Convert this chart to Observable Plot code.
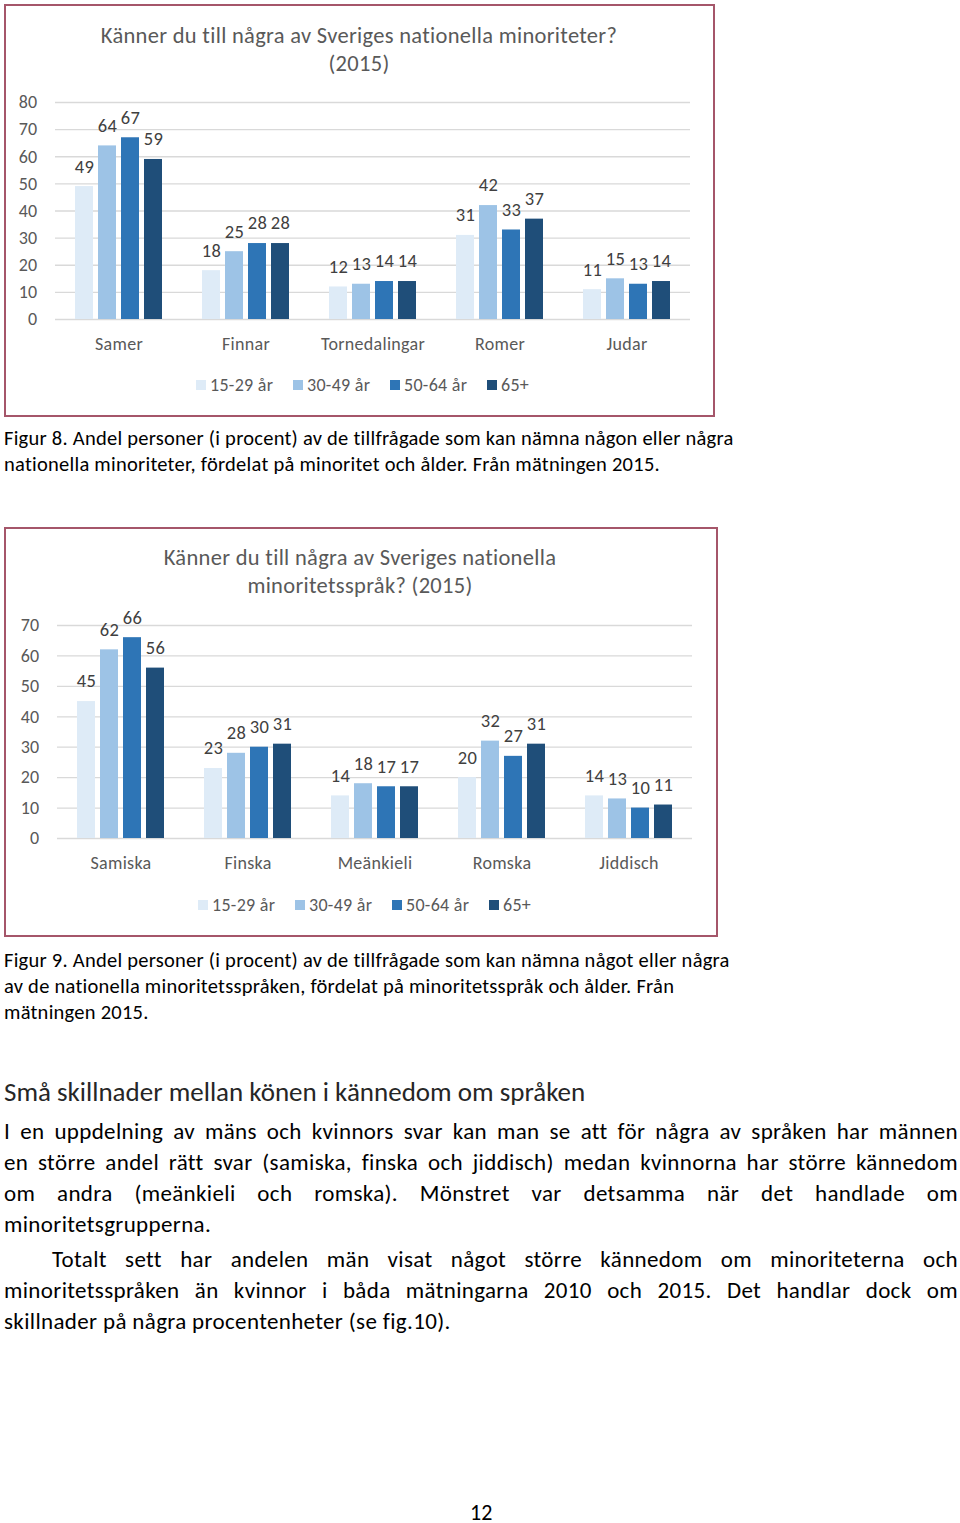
<!DOCTYPE html>
<html><head><meta charset="utf-8">
<script src="https://cdn.jsdelivr.net/npm/d3@7"></script>
<script src="https://cdn.jsdelivr.net/npm/@observablehq/plot@0.6"></script>
<style>
html,body{margin:0;padding:0;background:#fff;}
body{width:960px;height:1523px;position:relative;font-family:Carlito,Calibri,Lato,sans-serif;color:#000;overflow:hidden;}
.abs{position:absolute;white-space:nowrap;}
.box{position:absolute;border:2px solid #a5566a;box-sizing:border-box;}
.ctitle{position:absolute;text-align:center;color:#595959;font-size:22.5px;letter-spacing:0.3px;line-height:28px;}
.legend{position:absolute;color:#595959;font-size:18px;letter-spacing:0.3px;white-space:nowrap;}
.legend span.sw{position:absolute;width:10px;height:10px;}
.legend span.lb{position:absolute;line-height:20px;}
.cap{position:absolute;left:4px;font-size:20.5px;letter-spacing:0.25px;line-height:26px;white-space:nowrap;}
.line{position:absolute;left:4px;width:954px;font-size:23px;letter-spacing:0.35px;line-height:31px;white-space:nowrap;text-align:justify;text-align-last:justify;}
.last{text-align:left;text-align-last:left;}
</style></head>
<body>
<script>
const ageGroups = ["15-29 år", "30-49 år", "50-64 år", "65+"];
const ageColors = ["#deebf7", "#9dc3e6", "#2e75b6", "#1f4e79"];

const minorities = ["Samer", "Finnar", "Tornedalingar", "Romer", "Judar"];
const minor15_29 = [49, 18, 12, 31, 11];
const minor30_49 = [64, 25, 13, 42, 15];
const minor50_64 = [67, 28, 14, 33, 13];
const minor65 = [59, 28, 14, 37, 14];
const minorTicks = [0, 10, 20, 30, 40, 50, 60, 70, 80];

const languages = ["Samiska", "Finska", "Meänkieli", "Romska", "Jiddisch"];
const lang15_29 = [45, 23, 14, 20, 14];
const lang30_49 = [62, 28, 18, 32, 13];
const lang50_64 = [66, 30, 17, 27, 10];
const lang65 = [56, 31, 17, 31, 11];
const langTicks = [0, 10, 20, 30, 40, 50, 60, 70];

function toRows(cats, seriesArrays) {
  const rows = [];
  cats.forEach((c, i) => seriesArrays.forEach((arr, j) => rows.push({cat: c, age: ageGroups[j], value: arr[i]})));
  return rows;
}

function makeChart(cats, seriesArrays, ticks, opts) {
  const rows = toRows(cats, seriesArrays);
  return Plot.plot({
    width: opts.width, height: opts.height,
    marginLeft: 50, marginRight: opts.marginRight, marginTop: opts.marginTop, marginBottom: opts.marginBottom,
    style: {fontFamily: "Carlito, Calibri, Lato, sans-serif", fontSize: "18px", letterSpacing: "0.3px", color: "#595959", background: "transparent"},
    fx: {domain: cats, padding: 0, label: null},
    x: {domain: ageGroups, paddingInner: 0.22, paddingOuter: 0.86, axis: null},
    y: {domain: [0, ticks[ticks.length - 1]], ticks: ticks, label: null},
    color: {domain: ageGroups, range: ageColors},
    marks: [
      Plot.gridY(ticks, {stroke: "#d9d9d9", strokeOpacity: 1, strokeWidth: 1.3}),
      Plot.axisY(ticks, {tickSize: 0, tickPadding: 18, label: null, fill: "#595959"}),
      Plot.axisFx({anchor: "bottom", tickSize: 0, tickPadding: 25, lineAnchor: "middle", label: null, fill: "#595959"}),
      Plot.barY(rows, {fx: "cat", x: "age", y: "value", fill: "age"}),
      Plot.text(rows, {fx: "cat", x: "age", y: "value", text: d => String(d.value), dy: -20, fill: "#404040", fontSize: 18.5})
    ]
  });
}

function place(el, left, top) {
  el.style.position = "absolute";
  el.style.left = left + "px";
  el.style.top = top + "px";
  document.body.appendChild(el);
}

function addLegend(top, starts) {
  const lg = document.createElement("div");
  lg.className = "legend";
  lg.style.left = "0px"; lg.style.top = (top - 10) + "px";
  ageGroups.forEach((g, i) => {
    const sw = document.createElement("span");
    sw.className = "sw"; sw.style.background = ageColors[i];
    sw.style.left = starts[i] + "px"; sw.style.top = "5px";
    const lb = document.createElement("span");
    lb.className = "lb"; lb.textContent = g;
    lb.style.left = (starts[i] + 14) + "px"; lb.style.top = "0px";
    lg.appendChild(sw); lg.appendChild(lb);
  });
  document.body.appendChild(lg);
}

function addDiv(cls, html, style) {
  const d = document.createElement("div");
  d.className = cls; d.innerHTML = html;
  Object.assign(d.style, style);
  document.body.appendChild(d);
  return d;
}

// Chart 1
addDiv("box", "", {left: "4px", top: "4px", width: "711px", height: "413px"});
addDiv("ctitle", "Känner du till några av Sveriges nationella minoriteter?<br>(2015)", {left: "4px", top: "22px", width: "710px"});
place(makeChart(minorities, [minor15_29, minor30_49, minor50_64, minor65], minorTicks,
  {width: 708, height: 285, marginRight: 23, marginTop: 17, marginBottom: 51}), 5, 85);
addLegend(385, [196, 293, 390, 487]);

addDiv("cap", "Figur 8. Andel personer (i procent) av de tillfrågade som kan nämna någon eller några<br>nationella minoriteter, fördelat på minoritet och ålder. Från mätningen 2015.", {top: "425px"});

// Chart 2
addDiv("box", "", {left: "4px", top: "527px", width: "714px", height: "410px"});
addDiv("ctitle", "Känner du till några av Sveriges nationella<br>minoritetsspråk? (2015)", {left: "4px", top: "544px", width: "712px"});
place(makeChart(languages, [lang15_29, lang30_49, lang50_64, lang65], langTicks,
  {width: 711, height: 280, marginRight: 23, marginTop: 20, marginBottom: 47}), 5, 605);
addLegend(905, [198, 295, 392, 489]);

addDiv("cap", "Figur 9. Andel personer (i procent) av de tillfrågade som kan nämna något eller några<br>av de nationella minoritetsspråken, fördelat på minoritetsspråk och ålder. Från<br>mätningen 2015.", {top: "947px"});

// Text
addDiv("abs", "Små skillnader mellan könen i kännedom om språken", {left: "4px", top: "1077px", fontSize: "27px", lineHeight: "30px", color: "#262626"});
const para1 = [
  "I en uppdelning av mäns och kvinnors svar kan man se att för några av språken har männen",
  "en större andel rätt svar (samiska, finska och jiddisch) medan kvinnorna har större kännedom",
  "om andra (meänkieli och romska). Mönstret var detsamma när det handlade om",
  "minoritetsgrupperna."
];
const para2 = [
  "Totalt sett har andelen män visat något större kännedom om minoriteterna och",
  "minoritetsspråken än kvinnor i båda mätningarna 2010 och 2015. Det handlar dock om",
  "skillnader på några procentenheter (se fig.10)."
];
para1.forEach((t, i) => addDiv("line" + (i === para1.length - 1 ? " last" : ""), t, {top: (1131 - 15.5 + i * 31) + "px"}));
para2.forEach((t, i) => addDiv("line" + (i === para2.length - 1 ? " last" : ""), t,
  i === 0 ? {top: (1259 - 15.5) + "px", left: "52px", width: "906px"} : {top: (1259 - 15.5 + i * 31) + "px"}));

addDiv("abs", "12", {left: "470px", top: "1500px", fontSize: "22px", lineHeight: "26px"});
</script>
</body></html>
